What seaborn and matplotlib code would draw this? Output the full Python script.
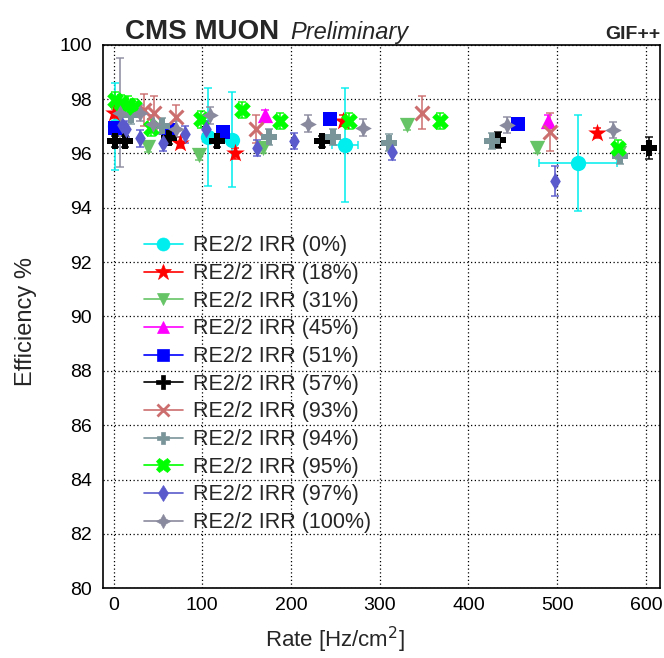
import numpy as np
import pandas as pd
import matplotlib
matplotlib.use("Agg")
import matplotlib.pyplot as plt
from matplotlib.lines import Line2D
from matplotlib.ticker import MultipleLocator
import seaborn as sns

# ---------------- data ----------------
labels = ["RE2/2 IRR (0%)", "RE2/2 IRR (18%)", "RE2/2 IRR (31%)", "RE2/2 IRR (45%)",
          "RE2/2 IRR (51%)", "RE2/2 IRR (57%)", "RE2/2 IRR (93%)", "RE2/2 IRR (94%)",
          "RE2/2 IRR (95%)", "RE2/2 IRR (97%)", "RE2/2 IRR (100%)"]

x_0 = [2, 106, 134, 261, 524]
y_0 = [97.0, 96.6, 96.5, 96.3, 95.65]
ye_0 = [1.6, 1.8, 1.75, 2.1, 1.75]
xe_0 = [0, 0, 0, 15, 44]

x_18 = [0, 75, 137, 259, 545]
y_18 = [97.5, 96.4, 96.0, 97.2, 96.75]
ye_18 = [0.2, 0.2, 0.2, 0.2, 0.2]

x_31 = [39, 96, 169, 331, 477, 570]
y_31 = [96.25, 95.95, 96.2, 97.05, 96.2, 96.0]
ye_31 = [0.2, 0.2, 0.2, 0.2, 0.2, 0.2]

x_45 = [171, 490]
y_45 = [97.4, 97.2]
ye_45 = [0.2, 0.2]

x_51 = [2, 62, 123, 244, 456]
y_51 = [96.95, 96.85, 96.8, 97.25, 97.1]
ye_51 = [0.2, 0.2, 0.2, 0.2, 0.2]

x_57 = [2, 13, 62, 117, 235, 433, 604]
y_57 = [96.45, 96.45, 96.55, 96.45, 96.45, 96.5, 96.2]
ye_57 = [0.2, 0.2, 0.2, 0.2, 0.2, 0.3, 0.4]

x_93 = [34, 46, 70, 160, 348, 492]
y_93 = [97.6, 97.5, 97.35, 96.9, 97.5, 96.8]
ye_93 = [0.6, 0.6, 0.45, 0.5, 0.6, 0.7]

x_94 = [20, 55, 175, 247, 310, 427, 571]
y_94 = [97.4, 97.0, 96.6, 96.6, 96.4, 96.45, 95.9]
ye_94 = [0.3, 0.3, 0.3, 0.3, 0.3, 0.3, 0.3]

x_95 = [2, 8, 16, 23, 42, 98, 145, 188, 265, 368, 569]
y_95 = [97.95, 97.85, 97.8, 97.7, 96.95, 97.25, 97.6, 97.2, 97.2, 97.2, 96.2]
ye_95 = [0.3] * 11

x_97 = [10, 14, 30, 56, 81, 104, 162, 203, 314, 498]
y_97 = [97.05, 96.9, 96.55, 96.4, 96.7, 96.9, 96.2, 96.45, 96.05, 95.0]
ye_97 = [0.3, 0.3, 0.3, 0.3, 0.3, 0.3, 0.3, 0.3, 0.3, 0.55]

x_100 = [7, 30, 45, 70, 109, 219, 281, 444, 563]
y_100 = [97.5, 97.5, 97.1, 96.9, 97.4, 97.1, 96.95, 97.05, 96.85]
ye_100 = [2.0, 0.3, 0.3, 0.3, 0.3, 0.3, 0.3, 0.3, 0.3]

xs = [x_0, x_18, x_31, x_45, x_51, x_57, x_93, x_94, x_95, x_97, x_100]
ys = [y_0, y_18, y_31, y_45, y_51, y_57, y_93, y_94, y_95, y_97, y_100]
yes = [ye_0, ye_18, ye_31, ye_45, ye_51, ye_57, ye_93, ye_94, ye_95, ye_97, ye_100]
xes = [xe_0] + [None] * 10

colors = ["#00EEEE", "#FF0000", "#66C466", "#FF00FF", "#0000FF", "#000000",
          "#CC6E6E", "#7A9599", "#00FF00", "#5A5ACC", "#8A8A9E"]
markers = ["o", "*", "v", "^", "s", "P", "x", "P", "X", "d", (4, 1, 0)]
msizes = [11, 14, 11, 11, 10, 12, 10, 11, 12, 9, 12]

# ---------------- style ----------------
sns.set_theme(style="white")
plt.rcParams["font.family"] = ["Liberation Sans", "DejaVu Sans"]

fig = plt.figure(figsize=(6.64, 6.58), dpi=100)
ax = fig.add_axes([0.155, 0.106, 0.839, 0.826])

rows = []
for lab, xx, yy in zip(labels, xs, ys):
    for a, b in zip(xx, yy):
        rows.append({"series": lab, "rate": a, "eff": b})
df = pd.DataFrame(rows)

for i, lab in enumerate(labels):
    sub = df[df["series"] == lab]
    ax.errorbar(xs[i], ys[i], yerr=yes[i], xerr=xes[i], fmt="none",
                ecolor=colors[i], elinewidth=1.3, capsize=3, capthick=1.2,
                zorder=3, alpha=0.85)
    mk = markers[i]
    lw = 2.2 if mk == "x" else 0
    sns.scatterplot(data=sub, x="rate", y="eff", ax=ax, color=colors[i],
                    marker=mk, s=msizes[i] ** 2, edgecolor=colors[i],
                    linewidth=lw, legend=False, zorder=4)

ax.set_xlim(-12, 616)
ax.set_ylim(80, 100)
ax.xaxis.set_major_locator(MultipleLocator(100))
ax.xaxis.set_minor_locator(MultipleLocator(20))
ax.yaxis.set_major_locator(MultipleLocator(2))
ax.yaxis.set_minor_locator(MultipleLocator(0.5))
ax.tick_params(axis="both", which="both", direction="in", top=False, right=False,
               colors="black", labelsize=14)
ax.tick_params(which="major", length=13, width=1.0)
ax.tick_params(which="minor", length=6.5, width=1.0)
ax.tick_params(axis="x", pad=6)
ax.tick_params(axis="y", pad=8)
ax.grid(True, which="major", linestyle=(0, (1, 2)), color="black", linewidth=0.9, zorder=0)
ax.set_axisbelow(True)
for sp in ax.spines.values():
    sp.set_color("black")
    sp.set_linewidth(1.2)

ax.set_xlabel("Rate [Hz/cm$^{2}$]", fontsize=16)
ax.xaxis.set_label_coords(0.417, -0.068)
ax.set_ylabel("Efficiency %", fontsize=17)
ax.yaxis.set_label_coords(-0.118, 0.49)

handles = [Line2D([0], [0], color=colors[i], marker=markers[i], markersize=msizes[i] * 0.85,
                  markeredgecolor=colors[i], markeredgewidth=(2 if markers[i] == "x" else 0.5),
                  lw=1.2)
           for i in range(len(labels))]
leg = ax.legend(handles, labels, loc="upper left", bbox_to_anchor=(0.058, 0.665),
                frameon=False, fontsize=15.5, handlelength=1.8, handletextpad=0.5,
                labelspacing=0.31, borderaxespad=0)

fig.text(0.188, 0.940, "CMS MUON", fontsize=20, fontweight="bold", ha="left", va="baseline")
fig.text(0.437, 0.940, "Preliminary", fontsize=17, fontstyle="italic", ha="left", va="baseline")
fig.text(0.994, 0.940, "GIF++", fontsize=14, fontweight="bold", ha="right", va="baseline")

fig.savefig("out.png", dpi=100)
